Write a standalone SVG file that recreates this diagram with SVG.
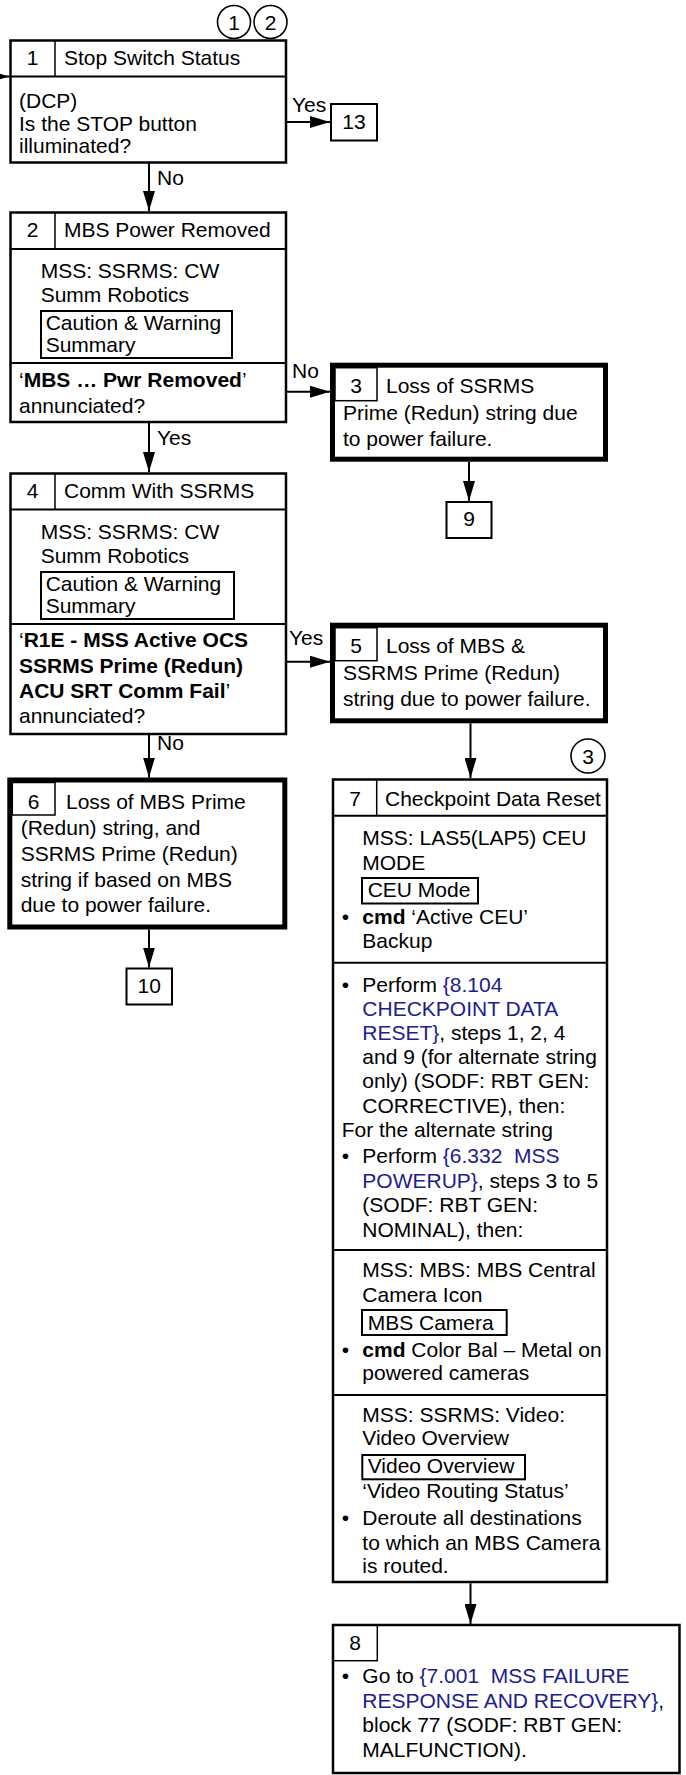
<svg xmlns="http://www.w3.org/2000/svg" width="686" height="1775" viewBox="0 0 686 1775">
<defs>
<marker id="ah" viewBox="0 0 20 12" refX="20" refY="6" markerWidth="20" markerHeight="12" markerUnits="userSpaceOnUse" orient="auto"><path d="M0,0 L20,6 L0,12 z" fill="#000"/></marker>
<style>
text{font-family:"Liberation Sans",Arial,Helvetica,sans-serif;font-size:21px;fill:#000;white-space:pre}
.c{text-anchor:middle}
.b{font-weight:bold}
.l{fill:#20208c}
.box{fill:#fff;stroke:#000;stroke-width:2.5}
.thick{fill:#fff;stroke:#000;stroke-width:5}
.ref{fill:#fff;stroke:#000;stroke-width:2}
.div{stroke:#000;stroke-width:2;fill:none}
.cell{stroke:#000;stroke-width:1.5;fill:none}
.sub{fill:none;stroke:#000;stroke-width:2}
.circ{fill:#fff;stroke:#000;stroke-width:1.6}
.con{stroke:#000;stroke-width:2;fill:none;marker-end:url(#ah)}
</style>
</defs>
<rect width="686" height="1775" fill="#fff"/>

<g id="connectors">
<line class="con" x1="-30" y1="76.5" x2="9.3" y2="76.5"/>
<line class="con" x1="287" y1="122" x2="330" y2="122"/>
<line class="con" x1="149" y1="163" x2="149" y2="211"/>
<line class="con" x1="287" y1="391.7" x2="330" y2="391.7"/>
<line class="con" x1="149" y1="423" x2="149" y2="472"/>
<line class="con" x1="469" y1="461.7" x2="469" y2="501"/>
<line class="con" x1="287" y1="661.7" x2="330" y2="661.7"/>
<line class="con" x1="149" y1="735" x2="149" y2="777.5"/>
<line class="con" x1="149" y1="929.5" x2="149" y2="967.5"/>
<line class="con" x1="470.5" y1="723.3" x2="470.5" y2="778"/>
<line class="con" x1="470.5" y1="1583.3" x2="470.5" y2="1624"/>
<text x="292" y="112">Yes</text>
<text x="157" y="185">No</text>
<text x="292" y="378">No</text>
<text x="157" y="445">Yes</text>
<text x="289" y="645">Yes</text>
<text x="157" y="750">No</text>
</g>

<g id="markers">
<circle class="circ" cx="234" cy="22" r="16.5"/>
<text class="c" x="234" y="29.5">1</text>
<circle class="circ" cx="270.5" cy="22" r="16.5"/>
<text class="c" x="270.5" y="29.5">2</text>
<circle class="circ" cx="588" cy="756" r="17"/>
<text class="c" x="588" y="763.5">3</text>
</g>

<g id="node1">
<rect class="box" x="10.5" y="40.5" width="275.5" height="122"/>
<line class="div" x1="10.5" y1="76.5" x2="286" y2="76.5"/>
<line class="cell" x1="55" y1="40.5" x2="55" y2="76.5"/>
<text class="c" x="32.5" y="65">1</text>
<text x="64" y="65">Stop Switch Status</text>
<text x="19" y="108">(DCP)</text>
<text x="19" y="130.5">Is the STOP button</text>
<text x="19" y="153">illuminated?</text>
</g>

<g id="node13">
<rect class="ref" x="331" y="104" width="46" height="36.5"/>
<text class="c" x="354" y="129">13</text>
</g>

<g id="node2">
<rect class="box" x="10.5" y="212.5" width="275.5" height="209.5"/>
<line class="div" x1="10.5" y1="249" x2="286" y2="249"/>
<line class="cell" x1="55" y1="212.5" x2="55" y2="249"/>
<text class="c" x="32.5" y="237">2</text>
<text x="64" y="237">MBS Power Removed</text>
<text x="40.7" y="277.5">MSS: SSRMS: CW</text>
<text x="40.7" y="302">Summ Robotics</text>
<rect class="sub" x="41" y="311" width="191" height="47"/>
<text x="45.7" y="330">Caution &amp; Warning</text>
<text x="45.7" y="351.5">Summary</text>
<line class="div" x1="10.5" y1="363" x2="286" y2="363"/>
<text x="19" y="387">‘<tspan class="b">MBS … Pwr Removed</tspan>’</text>
<text x="19" y="412.5">annunciated?</text>
</g>

<g id="node3">
<rect class="thick" x="332.5" y="365.2" width="273" height="94"/>
<rect class="cell" x="335" y="367.7" width="42" height="33"/>
<text class="c" x="356" y="393">3</text>
<text x="386" y="393">Loss of SSRMS</text>
<text x="343" y="420">Prime (Redun) string due</text>
<text x="343" y="446">to power failure.</text>
</g>

<g id="node9">
<rect class="ref" x="446.5" y="502" width="45" height="36"/>
<text class="c" x="469" y="526">9</text>
</g>

<g id="node4">
<rect class="box" x="10.5" y="473.5" width="275.5" height="260.5"/>
<line class="div" x1="10.5" y1="509.5" x2="286" y2="509.5"/>
<line class="cell" x1="55" y1="473.5" x2="55" y2="509.5"/>
<text class="c" x="32.5" y="498">4</text>
<text x="64" y="498">Comm With SSRMS</text>
<text x="40.7" y="538.5">MSS: SSRMS: CW</text>
<text x="40.7" y="562.5">Summ Robotics</text>
<rect class="sub" x="41" y="572" width="193" height="47"/>
<text x="45.7" y="591">Caution &amp; Warning</text>
<text x="45.7" y="612.5">Summary</text>
<line class="div" x1="10.5" y1="624" x2="286" y2="624"/>
<text x="19" y="647">‘<tspan class="b">R1E - MSS Active OCS</tspan></text>
<text class="b" x="19" y="672.5">SSRMS Prime (Redun)</text>
<text x="19" y="697.5"><tspan class="b">ACU SRT Comm Fail</tspan>’</text>
<text x="19" y="722.5">annunciated?</text>
</g>

<g id="node5">
<rect class="thick" x="332.5" y="625.2" width="273" height="95.6"/>
<rect class="cell" x="335" y="627.7" width="42" height="33"/>
<text class="c" x="356" y="653">5</text>
<text x="386" y="653">Loss of MBS &amp;</text>
<text x="343" y="679.5">SSRMS Prime (Redun)</text>
<text x="343" y="705.5">string due to power failure.</text>
</g>

<g id="node6">
<rect class="thick" x="9.8" y="780" width="275" height="147"/>
<rect class="cell" x="12.3" y="782.5" width="42.7" height="32.5"/>
<text class="c" x="33.5" y="809.3">6</text>
<text x="66" y="809.3">Loss of MBS Prime</text>
<text x="20.7" y="835">(Redun) string, and</text>
<text x="20.7" y="860.7">SSRMS Prime (Redun)</text>
<text x="20.7" y="886.5">string if based on MBS</text>
<text x="20.7" y="911.7">due to power failure.</text>
</g>

<g id="node10">
<rect class="ref" x="126.5" y="968.5" width="45.5" height="36"/>
<text class="c" x="149.2" y="992.5">10</text>
</g>

<g id="node7">
<rect class="box" x="333" y="779.5" width="274" height="802.5"/>
<line class="div" x1="333" y1="815.7" x2="607" y2="815.7"/>
<line class="cell" x1="376.7" y1="779.5" x2="376.7" y2="815.7"/>
<text class="c" x="355" y="806">7</text>
<text x="385" y="806">Checkpoint Data Reset</text>
<text x="362.3" y="845">MSS: LAS5(LAP5) CEU</text>
<text x="362.3" y="870">MODE</text>
<rect class="sub" x="362" y="878" width="116" height="25.5"/>
<text x="367.7" y="896.7">CEU Mode</text>
<text x="341.7" y="924.3">•</text>
<text x="362.3" y="924.3"><tspan class="b">cmd</tspan> ‘Active CEU’</text>
<text x="362.3" y="948.3">Backup</text>
<line class="div" x1="333" y1="962.7" x2="607" y2="962.7"/>
<text x="341.7" y="991.7">•</text>
<text x="362.3" y="991.7">Perform <tspan class="l">{8.104</tspan></text>
<text class="l" x="362.3" y="1015.5">CHECKPOINT DATA</text>
<text x="362.3" y="1039.5"><tspan class="l">RESET}</tspan>, steps 1, 2, 4</text>
<text x="362.3" y="1063.5">and 9 (for alternate string</text>
<text x="362.3" y="1088">only) (SODF: RBT GEN:</text>
<text x="362.3" y="1112.5">CORRECTIVE), then:</text>
<text x="341.7" y="1136.7">For the alternate string</text>
<text x="341.7" y="1162.5">•</text>
<text x="362.3" y="1162.5">Perform <tspan class="l">{6.332  MSS</tspan></text>
<text x="362.3" y="1187.5"><tspan class="l">POWERUP}</tspan>, steps 3 to 5</text>
<text x="362.3" y="1212">(SODF: RBT GEN:</text>
<text x="362.3" y="1236.5">NOMINAL), then:</text>
<line class="div" x1="333" y1="1250" x2="607" y2="1250"/>
<text x="362.3" y="1276.7">MSS: MBS: MBS Central</text>
<text x="362.3" y="1301.7">Camera Icon</text>
<rect class="sub" x="362" y="1310" width="144.7" height="25"/>
<text x="367.7" y="1330">MBS Camera</text>
<text x="341.7" y="1356.7">•</text>
<text x="362.3" y="1356.7"><tspan class="b">cmd</tspan> Color Bal – Metal on</text>
<text x="362.3" y="1380">powered cameras</text>
<line class="div" x1="333" y1="1395" x2="607" y2="1395"/>
<text x="362.3" y="1421.7">MSS: SSRMS: Video:</text>
<text x="362.3" y="1445">Video Overview</text>
<rect class="sub" x="362.3" y="1455" width="162.7" height="24.3"/>
<text x="367.7" y="1473.3">Video Overview</text>
<text x="362.3" y="1498.3">‘Video Routing Status’</text>
<text x="341.7" y="1525">•</text>
<text x="362.3" y="1525">Deroute all destinations</text>
<text x="362.3" y="1550">to which an MBS Camera</text>
<text x="362.3" y="1573.3">is routed.</text>
</g>

<g id="node8">
<rect class="box" x="333" y="1625" width="346.5" height="148"/>
<rect class="cell" x="333" y="1625" width="44.3" height="35.7"/>
<text class="c" x="355" y="1650">8</text>
<text x="341.7" y="1683.3">•</text>
<text x="362.3" y="1683.3">Go to <tspan class="l">{7.001  MSS FAILURE</tspan></text>
<text x="362.3" y="1708.3"><tspan class="l">RESPONSE AND RECOVERY}</tspan>,</text>
<text x="362.3" y="1731.7">block 77 (SODF: RBT GEN:</text>
<text x="362.3" y="1756.7">MALFUNCTION).</text>
</g>
</svg>
